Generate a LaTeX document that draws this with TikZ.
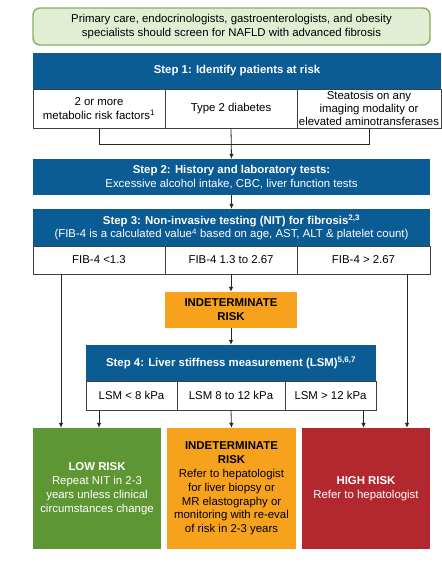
\documentclass[tikz,border=0pt]{standalone}
\usepackage{fontspec}
\setmainfont{Liberation Sans}
\usetikzlibrary{arrows.meta}
\definecolor{stepblue}{HTML}{0B5B95}
\definecolor{screenfill}{HTML}{E2EED3}
\definecolor{screenline}{HTML}{86AE5E}
\definecolor{lowgreen}{HTML}{5F9634}
\definecolor{midorange}{HTML}{F6A21D}
\definecolor{highred}{HTML}{B3282F}
\begin{document}
\begin{tikzpicture}[x=1pt,y=-1pt,
  font=\fontsize{11.4}{13.8}\selectfont,
  hdr/.style={fill=stepblue,text=white,inner sep=0pt,align=center},
  cell/.style={draw=black!75,line width=.7pt,fill=white,inner sep=0pt,align=center},
  res/.style={inner sep=0pt,align=center,minimum width=128pt,minimum height=121pt},
  link/.style={draw=black!85,line width=.8pt},
  >={Latex[length=5pt,width=4.5pt]}]
\useasboundingbox (0,0) rectangle (442,574);
% who screens
\node[draw=screenline,fill=screenfill,line width=1.4pt,rounded corners=7pt,inner sep=0pt,align=center,
  minimum width=397pt,minimum height=37pt] (screen) at (231.5,26.5)
  {Primary care, endocrinologists, gastroenterologists, and obesity\\specialists should screen for NAFLD with advanced fibrosis};
% step 1
\node[hdr,minimum width=408pt,minimum height=36pt] (step1) at (237,71) {\bfseries Step 1: Identify patients at risk};
\node[cell,minimum width=132pt,minimum height=39pt] (risk) at (99,108.5) {2 or more\\metabolic risk factors\textsuperscript{1}};
\node[cell,minimum width=132pt,minimum height=39pt] (diab) at (231,108.5) {Type 2 diabetes};
\node[cell,minimum width=144pt,minimum height=39pt,font=\fontsize{11.4}{12.8}\selectfont] (steat) at (369,108.5)
  {Steatosis on any\\imaging modality or\\elevated aminotransferases};
% step 2
\node[hdr,minimum width=397pt,minimum height=36pt] (step2) at (231.5,177)
  {\textbf{Step 2: History and laboratory tests:}\\Excessive alcohol intake, CBC, liver function tests};
% step 3
\node[hdr,minimum width=397pt,minimum height=37pt] (step3) at (231.5,227.5)
  {\textbf{Step 3: Non-invasive testing (NIT) for fibrosis\textsuperscript{2,3}}\\(FIB-4 is a calculated value\textsuperscript{4} based on age, AST, ALT \& platelet count)};
\node[cell,minimum width=132pt,minimum height=28pt] (fiblow) at (99,260) {FIB-4 <1.3};
\node[cell,minimum width=132pt,minimum height=28pt] (fibmid) at (231,260) {FIB-4 1.3 to 2.67};
\node[cell,minimum width=133pt,minimum height=28pt] (fibhigh) at (363.5,260) {FIB-4 > 2.67};
\node[fill=midorange,inner sep=0pt,align=center,minimum width=132pt,minimum height=36pt] (indet) at (231,310)
  {\bfseries INDETERMINATE\\\bfseries RISK};
% step 4
\node[hdr,minimum width=290pt,minimum height=36pt] (step4) at (231,363) {\bfseries Step 4: Liver stiffness measurement (LSM)\textsuperscript{5,6,7}};
\node[cell,minimum width=91pt,minimum height=29pt] (lsmlow) at (131.5,395.5) {LSM < 8 kPa};
\node[cell,minimum width=108pt,minimum height=29pt] (lsmmid) at (231,395.5) {LSM 8 to 12 kPa};
\node[cell,minimum width=91pt,minimum height=29pt] (lsmhigh) at (330.5,395.5) {LSM > 12 kPa};
% outcomes
\node[res,fill=lowgreen,text=white] (low) at (97,488.5)
  {\textbf{LOW RISK}\\Repeat NIT in 2-3\\years unless clinical\\circumstances change};
\node[res,fill=midorange,minimum width=129pt] (mid) at (231.5,488.5)
  {\textbf{INDETERMINATE}\\\textbf{RISK}\\Refer to hepatologist\\for liver biopsy or\\MR elastography or\\monitoring with re-eval\\of risk in 2-3 years};
\node[res,fill=highred,text=white] (high) at (366,488.5)
  {\textbf{HIGH RISK}\\Refer to hepatologist};
% connectors
\draw[link] (risk.south) -- ++(0,16) -| (steat.south);
\draw[link,->] (diab.south) -- (step2.north);
\draw[link,->] (step2.south) -- (step3.north);
\draw[link,->] (fibmid.south) -- (indet.north);
\draw[link,->] (indet.south) -- (step4.north);
\draw[link,->] ([xshift=-38pt]fiblow.south) -- ([xshift=-38pt]fiblow.south |- low.north);
\draw[link,->] ([xshift=43.5pt]fibhigh.south) -- ([xshift=43.5pt]fibhigh.south |- high.north);
\draw[link,->] (lsmlow.south -| fiblow.south) -- (fiblow.south |- low.north);
\draw[link,->] (lsmmid.south) -- (mid.north);
\draw[link,->] (lsmhigh.south -| fibhigh.south) -- (fibhigh.south |- high.north);
\end{tikzpicture}
\end{document}
